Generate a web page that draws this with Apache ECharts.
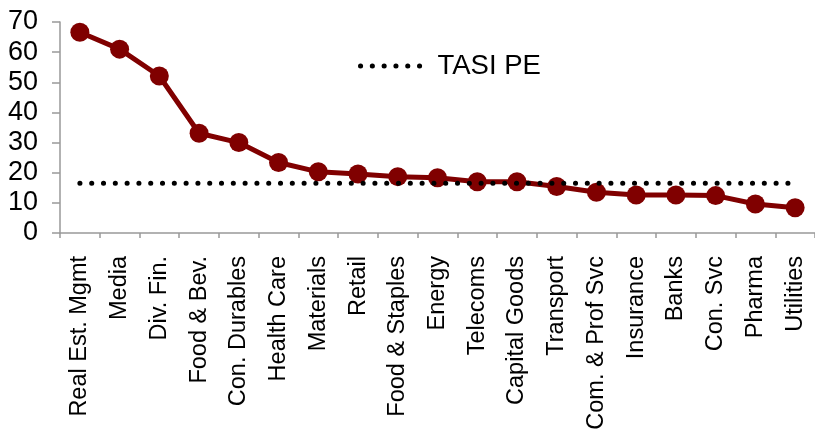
<!DOCTYPE html>
<html>
<head>
<meta charset="utf-8">
<script src="https://cdn.jsdelivr.net/npm/echarts@6/dist/echarts.min.js"></script>
<style>html,body{margin:0;padding:0;background:#fff;}#c{width:815px;height:430px;}</style>
</head>
<body>
<div id="c"></div>
<script>
var categories = ["Real Est. Mgmt","Media","Div. Fin.","Food & Bev.","Con. Durables","Health Care","Materials","Retail","Food & Staples","Energy","Telecoms","Capital Goods","Transport","Com. & Prof Svc","Insurance","Banks","Con. Svc","Pharma","Utilities"];
var sectorPE = [66.6, 61.0, 52.1, 33.1, 30.0, 23.4, 20.3, 19.6, 18.7, 18.3, 17.0, 17.0, 15.4, 13.5, 12.6, 12.6, 12.4, 9.6, 8.4];
var tasiPE = [16.5, 16.5, 16.5, 16.5, 16.5, 16.5, 16.5, 16.5, 16.5, 16.5, 16.5, 16.5, 16.5, 16.5, 16.5, 16.5, 16.5, 16.5, 16.5];
var yTicks = {min: 0, max: 70, interval: 10};

var chart = echarts.init(document.getElementById('c'), null, {renderer: 'canvas'});
var font = '"Liberation Sans", Arial, sans-serif';
var dotStyle = {color: '#000', width: 5, type: [0.1, 11.7], cap: 'round'};
chart.setOption({
  animation: false,
  backgroundColor: '#fff',
  textStyle: {fontFamily: font},
  grid: {left: 60, right: 0, top: 22, bottom: 197, containLabel: false, outerBoundsMode: 'none'},
  legend: {
    data: [{name: 'TASI PE'}],
    left: 353, top: 47,
    itemWidth: 68, itemHeight: 30,
    itemStyle: {color: 'transparent', borderWidth: 0, opacity: 0},
    lineStyle: dotStyle,
    textStyle: {fontSize: 27.5, color: '#000', fontFamily: font, padding: [0, 0, 0, 4]}
  },
  xAxis: {
    type: 'category',
    data: categories,
    boundaryGap: true,
    axisLine: {lineStyle: {color: '#999', width: 1.5}},
    axisTick: {show: true, length: 5, lineStyle: {color: '#999', width: 1.5}},
    axisLabel: {rotate: 90, fontSize: 23.5, color: '#000', margin: 23, fontFamily: font, interval: 0}
  },
  yAxis: {
    type: 'value',
    min: yTicks.min, max: yTicks.max, interval: yTicks.interval,
    splitLine: {show: false},
    axisLine: {show: true, lineStyle: {color: '#999', width: 1.5}},
    axisTick: {show: true, length: 8, lineStyle: {color: '#999', width: 1.5}},
    axisLabel: {fontSize: 27, color: '#000', margin: 22, fontFamily: font}
  },
  series: [
    {
      name: 'Sector PE',
      type: 'line',
      data: sectorPE,
      symbol: 'circle',
      symbolSize: 19,
      lineStyle: {color: '#800000', width: 5},
      itemStyle: {color: '#800000'},
      z: 2
    },
    {
      name: 'TASI PE',
      type: 'line',
      data: tasiPE,
      symbol: 'none',
      lineStyle: dotStyle,
      itemStyle: {color: '#000'},
      z: 3
    }
  ]
});
</script>
</body>
</html>
